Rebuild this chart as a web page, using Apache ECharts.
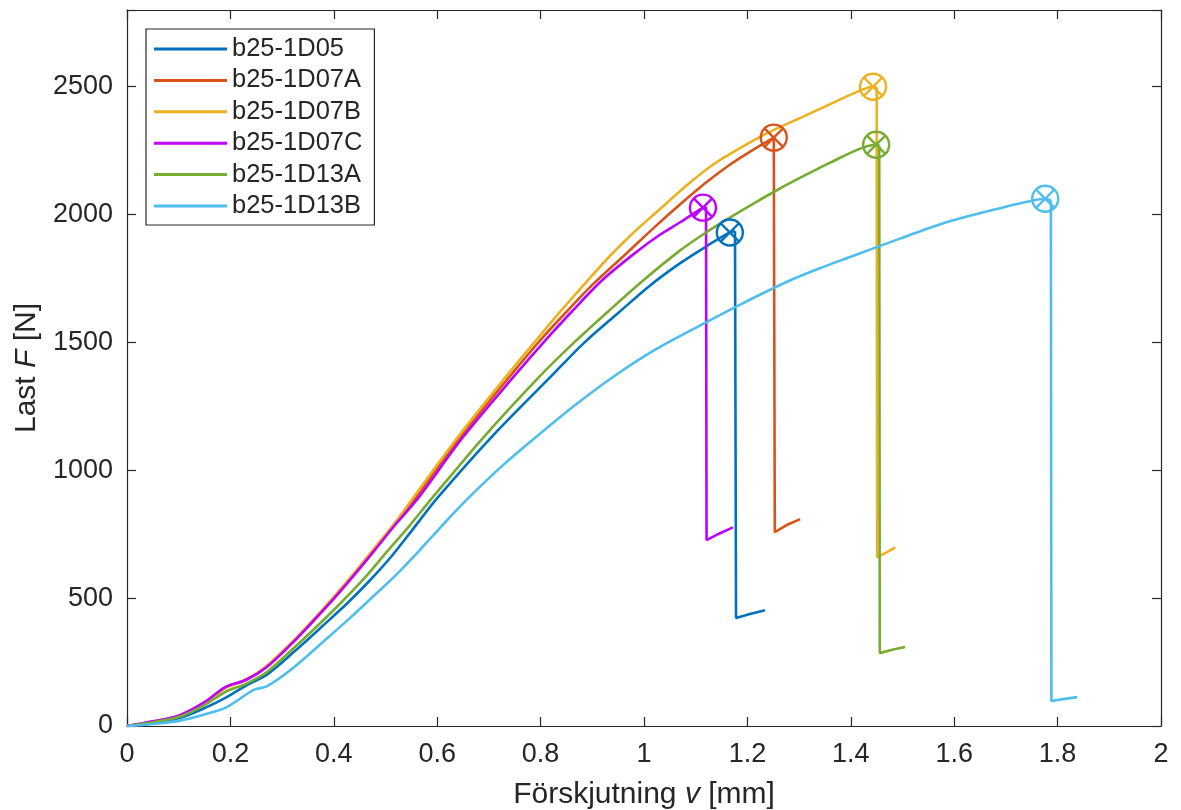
<!DOCTYPE html>
<html>
<head>
<meta charset="utf-8">
<script src="https://cdn.jsdelivr.net/npm/echarts@6/dist/echarts.min.js"></script>
<style>html,body{margin:0;padding:0;background:#fff}#c{width:1181px;height:810px}</style>
</head>
<body>
<div id="c"></div>
<script>
// ---- data (v [mm], F [N]) ----
const names = ['b25-1D05','b25-1D07A','b25-1D07B','b25-1D07C','b25-1D13A','b25-1D13B'];
const colors = ['#0072BD','#D95319','#EDB120','#BF00FF','#77AC30','#4DBEEE'];

const d05 = [[0,0],[0.05,13],[0.1,30],[0.15,70],[0.193,113],[0.232,160],[0.27,200],[0.323,290],[0.375,385],[0.426,480],[0.47,570],[0.51,660],[0.555,775],[0.60,891],[0.705,1130],[0.822,1371],[0.885,1500],[0.95,1615],[1.01,1720],[1.07,1810],[1.12,1875],[1.166,1930],[1.176,1935],[1.178,422],[1.205,438],[1.234,453]];
const d07A = [[0,0],[0.05,17],[0.1,40],[0.15,92],[0.19,150],[0.23,182],[0.27,233],[0.32,327],[0.36,410],[0.40,500],[0.44,595],[0.48,695],[0.52,795],[0.558,891],[0.645,1130],[0.742,1371],[0.8,1510],[0.85,1620],[0.9,1725],[0.967,1850],[1.02,1950],[1.07,2040],[1.12,2125],[1.166,2195],[1.21,2252],[1.251,2301],[1.253,758],[1.275,785],[1.302,809]];
const d07B = [[0,0],[0.05,17],[0.1,38],[0.15,90],[0.19,148],[0.23,180],[0.27,235],[0.32,330],[0.36,415],[0.40,505],[0.44,600],[0.48,700],[0.52,800],[0.553,891],[0.64,1130],[0.735,1371],[0.79,1505],[0.84,1625],[0.89,1740],[0.935,1840],[0.98,1930],[1.03,2020],[1.08,2110],[1.133,2195],[1.19,2265],[1.25,2330],[1.31,2385],[1.36,2432],[1.41,2478],[1.443,2500],[1.45,2498],[1.451,660],[1.47,680],[1.486,699]];
const d07C = [[0,0],[0.05,18],[0.1,40],[0.15,93],[0.19,152],[0.23,180],[0.27,230],[0.32,325],[0.36,410],[0.40,498],[0.44,592],[0.48,690],[0.52,790],[0.563,891],[0.65,1130],[0.75,1371],[0.81,1510],[0.86,1620],[0.92,1745],[0.986,1855],[1.03,1920],[1.07,1970],[1.114,2027],[1.12,2030],[1.121,727],[1.145,752],[1.172,777]];
const d13A = [[0,0],[0.05,15],[0.1,35],[0.15,82],[0.19,133],[0.23,165],[0.27,210],[0.32,300],[0.37,395],[0.413,480],[0.46,580],[0.5,675],[0.545,780],[0.59,891],[0.69,1130],[0.80,1371],[0.865,1500],[0.93,1620],[1.0,1745],[1.07,1860],[1.12,1930],[1.166,1988],[1.215,2047],[1.263,2102],[1.31,2152],[1.36,2203],[1.418,2258],[1.449,2273],[1.455,2270],[1.456,285],[1.48,298],[1.505,309]];
const d13B = [[0,0],[0.05,8],[0.1,20],[0.15,45],[0.193,74],[0.245,141],[0.271,156],[0.323,230],[0.387,343],[0.43,420],[0.47,495],[0.52,590],[0.565,685],[0.61,785],[0.66,891],[0.73,1025],[0.8,1145],[0.87,1260],[0.94,1365],[1.02,1470],[1.108,1566],[1.19,1652],[1.282,1742],[1.34,1790],[1.4,1835],[1.495,1906],[1.573,1962],[1.63,1995],[1.689,2025],[1.73,2045],[1.776,2062],[1.787,2055],[1.788,98],[1.81,105],[1.838,113]];
const peaks = [[1.166,1930],[1.251,2301],[1.443,2500],[1.114,2027],[1.449,2273],[1.776,2062]];

const xTicks = {min:0, max:2, interval:0.2};
const yTicks = {min:0, max:2800, interval:500};

const allData = [d05,d07A,d07B,d07C,d13A,d13B];
const FONT = '"Liberation Sans", Arial, Helvetica, sans-serif';
const AX = '#262626';
const LW = 2.6;

const markerPath = 'path://M50,2A48,48,0,1,1,49.99,2ZM16,16L84,84M84,16L16,84';

const series = [];
allData.forEach((d,i)=>{
  // split at the sudden load drop: smooth rising part, straight drop + tail
  let k = d.length - 1;
  for (let j = 0; j < d.length - 1; j++) { if (d[j][1] - d[j+1][1] > 500) { k = j; break; } }
  series.push({
    name: names[i], type:'line', data:d.slice(0,k+1), symbol:'none', smooth:0.3,
    lineStyle:{color:colors[i], width:LW}, itemStyle:{color:colors[i]},
    emphasis:{disabled:true}, z:2+i, silent:true
  });
  series.push({
    name: names[i]+'_drop', type:'line', data:d.slice(k), symbol:'none', smooth:false,
    lineStyle:{color:colors[i], width:LW}, itemStyle:{color:colors[i]},
    emphasis:{disabled:true}, z:2+i, silent:true
  });
});
peaks.forEach((p,i)=>{
  series.push({
    name:'peak'+i, type:'scatter', data:[p], symbol:markerPath, symbolSize:26,
    itemStyle:{color:'rgba(0,0,0,0)', borderColor:colors[i], borderWidth:2.4, opacity:1},
    emphasis:{disabled:true}, z:20, silent:true
  });
});

function axisCommon(){
  return {
    axisLine:{show:true, onZero:false, lineStyle:{color:AX, width:1.2}},
    axisTick:{show:true, inside:true, length:9, lineStyle:{color:AX, width:1.2}},
    splitLine:{show:false},
  };
}

const chart = echarts.init(document.getElementById('c'), null, {renderer:'canvas'});
chart.setOption({
  animation:false,
  backgroundColor:'#fff',
  textStyle:{fontFamily:FONT},
  grid:{left:127, right:20, top:10, bottom:84, containLabel:false, outerBoundsMode:'none'},
  legend:{
    data:names.map((n,i)=>({name:n, icon:'rect', itemStyle:{color:colors[i]}})),
    left:146, top:29, orient:'vertical',
    itemWidth:73, itemHeight:3, itemGap:5.4,
    padding:[7,12,6,8],
    backgroundColor:'#fff', borderColor:AX, borderWidth:1.2,
    textStyle:{fontSize:25.5, color:AX, fontFamily:FONT, lineHeight:25.5},
    selectedMode:false
  },
  xAxis:[
    Object.assign({type:'value', position:'bottom', min:xTicks.min, max:xTicks.max, interval:xTicks.interval,
      axisLabel:{fontSize:27, color:AX, margin:15, fontFamily:FONT,
        formatter:v=>String(Math.round(v*10)/10)},
      name:'{a|Förskjutning }{i|v}{a| [mm]}', nameLocation:'middle', nameGap:54,
      nameTextStyle:{fontSize:30, color:AX, fontFamily:FONT,
        rich:{a:{fontSize:30,color:AX,fontFamily:FONT}, i:{fontSize:30,color:AX,fontStyle:'italic',fontFamily:FONT}}}
    }, axisCommon()),
    Object.assign({type:'value', position:'top', min:xTicks.min, max:xTicks.max, interval:xTicks.interval,
      axisLabel:{show:false}}, axisCommon())
  ],
  yAxis:[
    Object.assign({type:'value', position:'left', min:yTicks.min, max:yTicks.max, interval:yTicks.interval,
      axisLabel:{fontSize:27, color:AX, margin:14, fontFamily:FONT,
        formatter:v=>(v%500===0?String(v):'')},
      name:'{a|Last }{i|F}{a| [N]}', nameLocation:'middle', nameGap:79, nameRotate:90,
      nameTextStyle:{fontSize:30, color:AX, fontFamily:FONT,
        rich:{a:{fontSize:30,color:AX,fontFamily:FONT}, i:{fontSize:30,color:AX,fontStyle:'italic',fontFamily:FONT}}}
    }, axisCommon()),
    Object.assign({type:'value', position:'right', min:yTicks.min, max:yTicks.max, interval:yTicks.interval,
      axisLabel:{show:false}}, axisCommon())
  ],
  series:series
});
</script>
</body>
</html>
